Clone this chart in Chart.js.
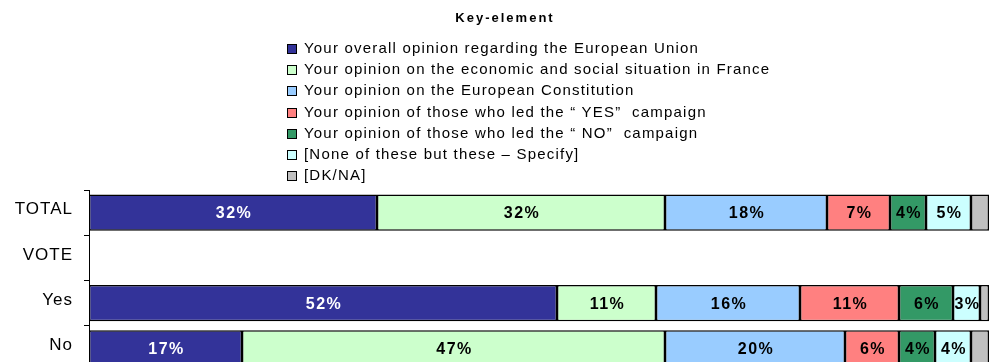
<!DOCTYPE html>
<html>
<head>
<meta charset="utf-8">
<script src="https://cdn.jsdelivr.net/npm/chart.js@4.4.1/dist/chart.umd.min.js"></script>
<style>
  html, body { margin: 0; padding: 0; background: #fff; }
  #frame { position: relative; width: 990px; height: 362px; overflow: hidden; }
  #keyElementChart { position: absolute; left: 0; top: 0; }
  #legendTitle {
    position: absolute; left: 405px; top: 10px; width: 200px; text-align: center;
    font: bold 13px "Liberation Sans", Arial, sans-serif; letter-spacing: 2px; color: #000;
  }
  #legend {
    position: absolute; left: 287px; top: 37px; margin: 0; padding: 0; list-style: none;
    font: 15px "Liberation Sans", Arial, sans-serif; letter-spacing: 1.2px; color: #000;
  }
  #legend li { height: 21.2px; line-height: 21.2px; white-space: pre; }
  #legend span.swatch {
    display: inline-block; width: 8px; height: 8px; border: 1px solid #000;
    margin-right: 7px; vertical-align: -1px;
  }
</style>
</head>
<body>
<div id="frame">
  <canvas id="keyElementChart" width="990" height="372"></canvas>
  <div id="legendTitle">Key-element</div>
  <ul id="legend"></ul>
</div>
<script>
const categories = ["TOTAL", "VOTE", "Yes", "No"];
const seriesNames = [
  "Your overall opinion regarding the European Union",
  "Your opinion on the economic and social situation in France",
  "Your opinion on the European Constitution",
  "Your opinion of those who led the \u201c YES\u201d  campaign",
  "Your opinion of those who led the \u201c NO\u201d  campaign",
  "[None of these but these \u2013 Specify]",
  "[DK/NA]"
];
const seriesColors = ["#333399", "#CCFFCC", "#99CCFF", "#FF8080", "#339966", "#CCFFFF", "#C0C0C0"];

// percentages per row (VOTE is just a heading row)
const europeanUnion = [32, null, 52, 17];
const economicSituation = [32, null, 11, 47];
const constitution = [18, null, 16, 20];
const yesCampaign = [7, null, 11, 6];
const noCampaign = [4, null, 6, 4];
const noneOfThese = [5, null, 3, 4];
const dkNa = [2, null, 1, 2];

const seriesValues = [europeanUnion, economicSituation, constitution, yesCampaign, noCampaign, noneOfThese, dkNa];

const FONT = "'Liberation Sans', Arial, sans-serif";

const datasets = seriesValues.map((values, i) => ({
  label: seriesNames[i],
  data: values,
  backgroundColor: seriesColors[i],
  borderColor: "#000",
  borderWidth: 1.5,
  borderSkipped: false,
  barPercentage: 0.8,
  categoryPercentage: 1
}));

// wider letter spacing for the axis text
const letterSpacing = {
  id: "letterSpacing",
  beforeDraw(chart) {
    chart.ctx.letterSpacing = "1px";
  }
};

// percentage written inside each segment
const barLabels = {
  id: "barLabels",
  afterDatasetsDraw(chart) {
    const ctx = chart.ctx;
    ctx.save();
    ctx.font = "bold 16px " + FONT;
    ctx.letterSpacing = "1.5px";
    ctx.textAlign = "center";
    ctx.textBaseline = "middle";
    chart.data.datasets.forEach((ds, i) => {
      chart.getDatasetMeta(i).data.forEach((bar, j) => {
        const v = ds.data[j];
        if (v == null || v < 3) return;
        ctx.fillStyle = i === 0 ? "#fff" : "#000";
        ctx.fillText(v + "%", (bar.x + bar.base) / 2 + 1, bar.y + 1);
      });
    });
    ctx.restore();
  }
};

// list legend built from the chart's own legend items
const htmlLegend = {
  id: "htmlLegend",
  afterUpdate(chart) {
    const ul = document.getElementById("legend");
    ul.innerHTML = "";
    const items = chart.options.plugins.legend.labels.generateLabels(chart);
    items.forEach(item => {
      const li = document.createElement("li");
      const sw = document.createElement("span");
      sw.className = "swatch";
      sw.style.background = item.fillStyle;
      li.appendChild(sw);
      li.appendChild(document.createTextNode(item.text));
      ul.appendChild(li);
    });
  }
};

new Chart("keyElementChart", {
  type: "bar",
  data: { labels: categories, datasets },
  options: {
    indexAxis: "y",
    responsive: false,
    animation: false,
    layout: { padding: { top: 190, right: 1, bottom: 1, left: 0 } },
    plugins: {
      legend: { display: false },
      tooltip: { enabled: false }
    },
    scales: {
      x: { stacked: true, min: 0, max: 100, display: false },
      y: {
        stacked: true,
        afterFit(scale) {
          scale.width = 89;
          scale.paddingTop = 0;
          scale.paddingBottom = 0;
        },
        border: { color: "#000", width: 1 },
        grid: { offset: true, drawOnChartArea: false, drawTicks: true, tickLength: 5, color: "#000" },
        ticks: { padding: 11, labelOffset: -3, color: "#000", font: { family: FONT, size: 17 } }
      }
    }
  },
  plugins: [letterSpacing, barLabels, htmlLegend]
});
</script>
</body>
</html>
